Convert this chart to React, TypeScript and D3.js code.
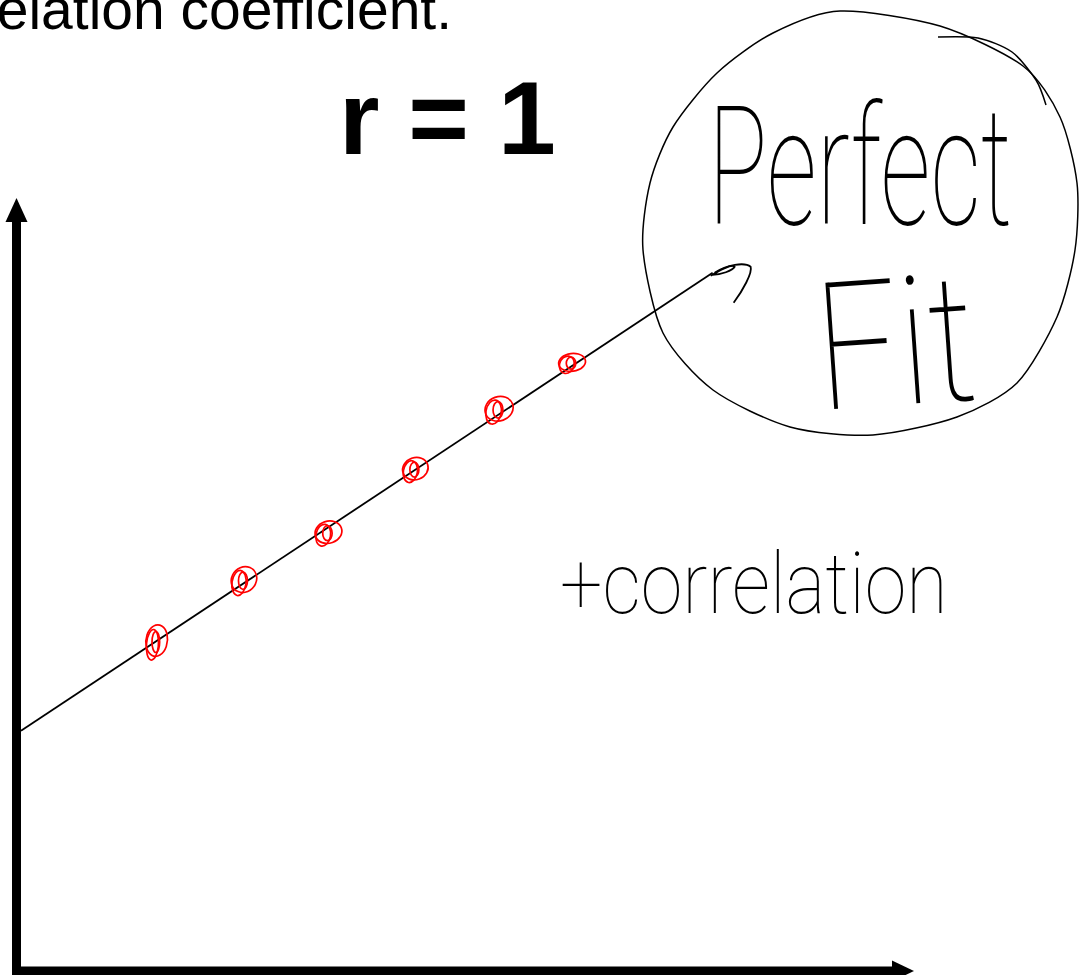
import React from "react";
import * as d3 from "d3";

// Scatter of observations that fall exactly on a line (r = 1)
const pointX = [1.54, 2.54, 3.51, 4.51, 5.47, 6.31];
const pointY = [4.23, 5.03, 5.65, 6.48, 7.26, 7.87];

// Hand-drawn fit line endpoints
const fitX = [0, 7.95];
const fitY = [3.07, 9.05];

const title = "elation coefficient.";
const rLabel = "r = 1";
const noteTop = "Perfect";
const noteBottom = "Fit";
const noteSign = "+correlation";

const W = 1082;
const H = 975;

const xScale = d3.scaleLinear().domain([0, 10]).range([21, 891]);
const yScale = d3.scaleLinear().domain([0, 10]).range([966, 200]);

// Outline of the hand-drawn circle around the note
const ringPts: [number, number][] = [
  [840, 11], [940, 26], [1023, 66], [1060, 117], [1077, 183], [1075, 250],
  [1057, 317], [1017, 383], [957, 417], [873, 435], [790, 427], [713, 390],
  [663, 333], [643, 250], [650, 183], [673, 127], [717, 73], [773, 33],
];
const ringTail: [number, number][] = [
  [938, 37], [978, 38], [1012, 52], [1036, 80], [1046, 105],
];

// Loops that make up each red scribbled dot: [dx, dy, rx, ry, rotate]
const loops: [number, number, number, number, number][] = [
  [2, -1, 13, 11, -20],
  [-3, 2, 7, 11, 10],
  [1, 0, 4.5, 7.5, 0],
];
const dotScale = [
  [0.85, 1.4], [1.0, 1.15], [1.05, 1.0], [1.0, 1.0], [1.1, 1.1], [1.05, 0.8],
];

export default function App() {
  const line = d3.line<[number, number]>();
  const fitPts: [number, number][] = fitX.map((x, i) => [xScale(x), yScale(fitY[i])]);
  const end = fitPts[1];
  const ring = d3.line<[number, number]>().curve(d3.curveCardinalClosed.tension(0.2))(ringPts) || "";
  const tail = d3.line<[number, number]>().curve(d3.curveCardinal.tension(0.2))(ringTail) || "";

  const axX = xScale(0) - 4.5;
  const axY = yScale(0) + 5;
  const hand = "Roboto, 'DejaVu Sans', sans-serif";

  return (
    <div style={{ position: "fixed", left: 0, top: 0, width: W, height: H, background: "#fff" }}>
      <svg width={W} height={H} style={{ display: "block" }}>
        <rect width={W} height={H} fill="#fff" />
        <text x={452} y={29} textAnchor="end" fontFamily="'Liberation Sans', Arial, sans-serif" fontSize={57} fill="#000">
          {title}
        </text>
        <text x={339} y={154} fontFamily="'Liberation Sans', Arial, sans-serif" fontWeight="bold" fontSize={104} fill="#000">
          {rLabel}
        </text>

        {/* axes with arrowheads */}
        <rect x={axX - 4.5} y={222} width={9} height={H - 222} fill="#000" />
        <path d={`M${axX - 11},222 L${axX},198 L${axX + 11},222 Z`} fill="#000" />
        <rect x={axX - 4.5} y={axY - 4.5} width={892 - axX + 4.5} height={9} fill="#000" />
        <path d={`M892,${axY - 10.5} L914,${axY} L892,${axY + 10.5} Z`} fill="#000" />

        {/* fit line with its hooked arrow end */}
        <path d={line(fitPts) || ""} fill="none" stroke="#000" strokeWidth={1.8} />
        <g transform={`translate(${end[0]},${end[1]})`} fill="none" stroke="#000" strokeWidth={1.8}>
          <path d="M-2,3 C8,-3 20,-9 22,-6 C20,-2 8,2 0,2" />
          <path d="M2,0 C14,-8 32,-11 38,-6 C40,0 30,18 21,30" />
        </g>

        {/* red scribbled data points */}
        {pointX.map((x, i) => (
          <g key={i} transform={`translate(${xScale(x)},${yScale(pointY[i])}) scale(${dotScale[i][0]},${dotScale[i][1]})`}>
            {loops.map((l, j) => (
              <ellipse
                key={j}
                cx={l[0]}
                cy={l[1]}
                rx={l[2]}
                ry={l[3]}
                transform={`rotate(${l[4]} ${l[0]} ${l[1]})`}
                fill="none"
                stroke="#ff0000"
                strokeWidth={1.7}
                vectorEffect="non-scaling-stroke"
              />
            ))}
          </g>
        ))}

        {/* circled note */}
        <path d={ring} fill="none" stroke="#000" strokeWidth={1.5} />
        <path d={tail} fill="none" stroke="#000" strokeWidth={1.5} />
        <text transform="translate(708,224) scale(0.6,1)" fontFamily={hand} fontWeight={100} fontSize={165} fill="#000">
          {noteTop}
        </text>
        <text transform="translate(820,410) rotate(-4) scale(0.82,1)" fontFamily={hand} fontWeight={100} fontSize={178} fill="#000">
          {noteBottom}
        </text>
        <text transform="translate(560,613) scale(0.92,1.05)" fontFamily={hand} fontWeight={100} fontSize={82} fill="#000">
          {noteSign}
        </text>
      </svg>
    </div>
  );
}
